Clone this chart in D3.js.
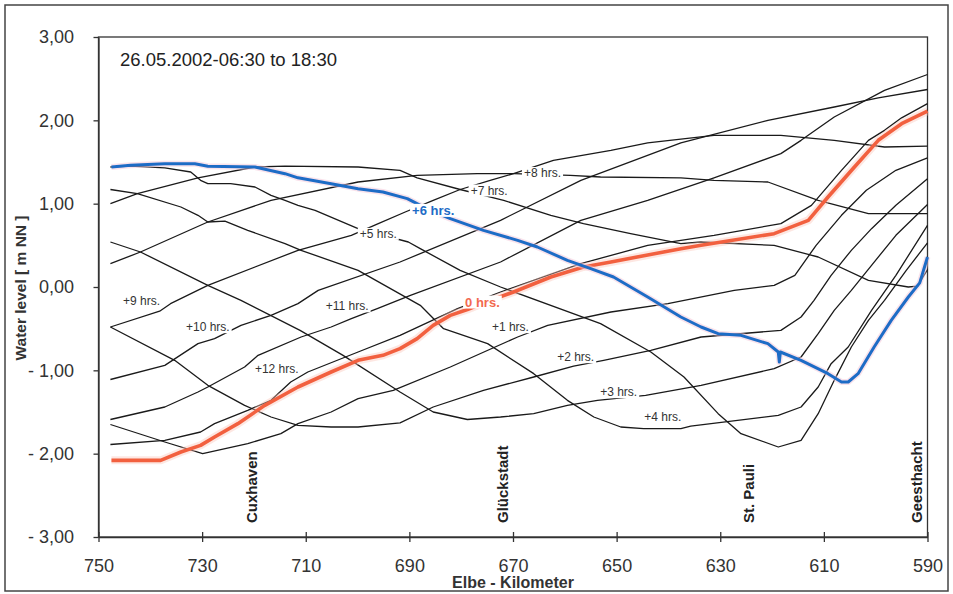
<!DOCTYPE html>
<html>
<head>
<meta charset="utf-8">
<script src="https://cdn.jsdelivr.net/npm/d3@7"></script>
<style>
  body { margin: 0; background: #fff; }
  svg { display: block; }
  text { font-family: "Liberation Sans", Arial, sans-serif; }
</style>
</head>
<body>
<div id="chart"></div>
<script>
// water level profiles along the Elbe [km, m NN], one per hour
const hrs0 = [[747.5,-2.08],[738.0,-2.08],[734.1,-1.98],[730.3,-1.90],[727.6,-1.80],[723.1,-1.64],[717.9,-1.42],[711.5,-1.20],[705.1,-1.02],[699.9,-0.88],[695.1,-0.82],[691.8,-0.74],[688.5,-0.62],[685.4,-0.46],[682.1,-0.34],[678.8,-0.27],[674.4,-0.16],[669.9,-0.06],[662.7,0.12],[656.4,0.24],[651.1,0.30],[637.6,0.46],[633.7,0.50],[619.6,0.64],[613.0,0.80],[609.2,1.08],[604.1,1.44],[599.5,1.76],[595.0,1.96],[590.0,2.11]];
const hrs1 = [[747.7,-1.65],[737.2,-1.86],[729.9,-2.00],[721.2,-1.88],[714.8,-1.76],[711.5,-1.64],[705.1,-1.50],[699.9,-1.34],[693.1,-1.24],[682.1,-0.96],[669.1,-0.60],[663.3,-0.46],[651.1,-0.30],[640.1,-0.20],[627.3,-0.04],[619.6,0.02],[615.6,0.14],[611.5,0.50],[606.6,0.86],[601.8,1.16],[596.1,1.40],[590.0,1.55]];
const hrs2 = [[747.7,-0.48],[735.3,-0.88],[728.9,-1.18],[721.8,-1.42],[716.7,-1.56],[711.5,-1.66],[705.1,-1.68],[699.9,-1.68],[691.8,-1.63],[685.4,-1.44],[675.7,-1.24],[666.0,-1.08],[658.3,-0.95],[652.5,-0.88],[643.4,-0.76],[633.7,-0.60],[618.3,-0.52],[614.4,-0.36],[611.9,-0.16],[608.6,0.14],[604.7,0.44],[600.8,0.70],[596.1,0.98],[590.0,1.30]];
const hrs3 = [[747.7,0.54],[741.9,0.42],[728.9,0.02],[722.5,-0.16],[711.1,-0.52],[702.8,-0.82],[691.8,-1.26],[685.4,-1.50],[678.8,-1.59],[672.4,-1.56],[666.0,-1.52],[659.5,-1.42],[653.7,-1.36],[644.4,-1.30],[633.7,-1.18],[619.6,-0.98],[614.4,-0.84],[611.1,-0.56],[608.0,-0.28],[604.7,-0.04],[600.8,0.26],[596.1,0.62],[590.0,0.99]];
const hrs4 = [[747.7,1.17],[742.5,1.12],[734.1,0.96],[730.8,0.86],[728.9,0.78],[725.6,0.79],[721.2,0.68],[714.0,0.52],[710.9,0.44],[699.9,0.20],[687.9,-0.22],[683.4,-0.50],[674.9,-0.68],[666.0,-1.04],[659.5,-1.36],[654.4,-1.56],[649.2,-1.68],[644.8,-1.70],[637.6,-1.70],[635.7,-1.67],[618.8,-1.54],[614.4,-1.44],[611.1,-1.20],[608.6,-0.92],[605.3,-0.72],[600.8,-0.28],[596.1,0.14],[590.0,0.74]];
const hrs5 = [[747.7,1.44],[743.8,1.45],[737.2,1.43],[732.2,1.38],[730.3,1.28],[728.9,1.24],[724.5,1.24],[719.8,1.20],[716.7,1.10],[714.0,1.04],[711.5,0.98],[708.2,0.92],[699.9,0.70],[690.2,0.54],[687.9,0.46],[680.2,0.20],[672.4,0.00],[653.1,-0.44],[643.4,-0.78],[637.0,-1.08],[630.4,-1.52],[626.0,-1.76],[618.8,-1.92],[614.4,-1.84],[611.1,-1.52],[608.0,-1.12],[604.7,-0.72],[601.4,-0.40],[598.3,-0.16],[594.1,0.20],[590.0,0.53]];
const hrs6 = [[747.5,1.44],[743.8,1.46],[737.2,1.48],[731.4,1.48],[728.9,1.45],[719.8,1.44],[714.0,1.36],[711.5,1.31],[705.1,1.24],[699.9,1.18],[695.1,1.14],[690.4,1.06],[686.0,0.92],[682.1,0.82],[675.7,0.68],[669.1,0.56],[665.3,0.48],[659.5,0.32],[655.0,0.22],[650.6,0.12],[644.0,-0.12],[637.6,-0.36],[633.7,-0.48],[630.4,-0.56],[626.0,-0.58],[620.8,-0.68],[618.8,-0.78],[618.6,-0.90],[618.4,-0.78],[614.4,-0.88],[609.2,-1.04],[606.6,-1.14],[605.3,-1.14],[603.4,-1.04],[600.3,-0.72],[597.0,-0.40],[593.7,-0.12],[591.5,0.05],[590.0,0.36]];
const hrs7 = [[747.7,1.00],[742.5,1.12],[730.8,1.31],[719.8,1.44],[714.0,1.45],[699.9,1.44],[691.8,1.40],[688.5,1.31],[680.2,1.17],[671.8,1.04],[662.7,0.86],[656.4,0.76],[647.3,0.64],[637.6,0.52],[633.7,0.54],[619.6,0.50],[611.1,0.36],[601.4,0.08],[593.7,0.00],[591.9,0.01],[590.0,0.21]];
const hrs8 = [[747.7,0.28],[741.9,0.42],[728.9,0.78],[716.7,1.04],[699.9,1.26],[688.5,1.34],[676.9,1.36],[669.9,1.36],[658.9,1.34],[653.1,1.32],[637.6,1.31],[631.2,1.28],[620.8,1.26],[611.1,1.04],[601.4,0.88],[590.0,0.88]];
const hrs9 = [[747.7,-0.48],[738.2,-0.29],[736.1,-0.20],[728.9,0.02],[711.5,0.44],[701.2,0.62],[696.0,0.76],[690.8,0.90],[685.4,1.04],[680.2,1.17],[674.4,1.28],[669.9,1.36],[662.2,1.52],[651.1,1.64],[644.0,1.73],[631.2,1.82],[618.3,1.82],[608.0,1.76],[598.3,1.68],[590.0,1.69]];
const hrs10 = [[747.7,-1.11],[737.2,-0.94],[730.8,-0.68],[727.6,-0.62],[722.5,-0.46],[716.7,-0.34],[711.5,-0.20],[707.6,-0.04],[691.8,0.30],[672.4,0.80],[656.9,1.28],[637.6,1.73],[620.8,2.00],[608.0,2.16],[599.5,2.27],[590.0,2.37]];
const hrs11 = [[747.7,-1.59],[737.2,-1.44],[730.8,-1.26],[728.9,-1.20],[721.8,-0.96],[719.2,-0.82],[710.9,-0.60],[705.1,-0.48],[701.2,-0.38],[696.2,-0.26],[689.8,-0.10],[672.4,0.30],[656.9,0.80],[644.0,1.04],[631.2,1.31],[618.3,1.60],[614.4,1.76],[608.0,2.04],[598.3,2.36],[590.0,2.55]];
const hrs12 = [[747.7,-1.89],[737.2,-1.84],[730.3,-1.74],[727.6,-1.64],[721.2,-1.48],[716.7,-1.36],[712.9,-1.14],[709.6,-1.02],[699.9,-0.78],[691.8,-0.58],[680.7,-0.26],[672.4,-0.06],[656.9,0.28],[644.0,0.50],[631.2,0.62],[618.3,0.76],[612.4,0.98],[606.6,1.40],[601.4,1.76],[598.3,1.88],[595.0,2.03],[590.0,2.20]];

const blackSeries = [hrs1, hrs2, hrs3, hrs4, hrs5, hrs7, hrs8, hrs9, hrs10, hrs11, hrs12];

// curve labels, anchored at [km, level]
const hourLabels = [
  {text: "+1 hrs.", km: 670.5, lv: -0.48},
  {text: "+2 hrs.", km: 657.9, lv: -0.84},
  {text: "+3 hrs.", km: 649.6, lv: -1.26},
  {text: "+4 hrs.", km: 641.1, lv: -1.56},
  {text: "+5 hrs.", km: 696.0, lv: 0.64},
  {text: "+7 hrs.", km: 674.6, lv: 1.16},
  {text: "+8 hrs.", km: 664.3, lv: 1.37},
  {text: "+9 hrs.", km: 741.7, lv: -0.16},
  {text: "+10 hrs.", km: 728.9, lv: -0.48},
  {text: "+11 hrs.", km: 702.0, lv: -0.23},
  {text: "+12 hrs.", km: 715.6, lv: -0.98}
];
const blueLabel = {text: "+6 hrs.", km: 685.4, lv: 0.92};
const redLabel = {text: "0 hrs.", km: 675.9, lv: -0.18};

const stations = [
  {name: "Cuxhaven", km: 720.4},
  {name: "Glückstadt", km: 672.0},
  {name: "St. Pauli", km: 624.4},
  {name: "Geesthacht", km: 592.0}
];

const xTicks = [750, 730, 710, 690, 670, 650, 630, 610, 590];
const yTicks = [-3, -2, -1, 0, 1, 2, 3];

const W = 953, H = 594;
const plot = {left: 98.5, right: 927.5, top: 37, bottom: 537};

const svg = d3.select("#chart").append("svg")
    .attr("width", W)
    .attr("height", H);

// outer frame of the picture
svg.append("rect")
    .attr("x", 5).attr("y", 5)
    .attr("width", 943).attr("height", 586)
    .attr("fill", "none")
    .attr("stroke", "#444")
    .attr("stroke-width", 1.5);

const x = d3.scaleLinear().domain([750, 590]).range([plot.left, plot.right]);
const y = d3.scaleLinear().domain([-3, 3]).range([plot.bottom, plot.top]);

const fmt = d3.format(".2f");
const yFormat = v => (v < 0 ? "- " + fmt(-v) : fmt(v)).replace(".", ",");

// axes
const xAxis = svg.append("g")
    .attr("transform", `translate(0,${plot.bottom})`)
    .call(d3.axisBottom(x).tickValues(xTicks).tickSize(0).tickPadding(22).tickSizeOuter(0));
xAxis.selectAll(".tick line").attr("y1", -5).attr("y2", 5);
xAxis.selectAll("text").attr("font-size", 18).attr("fill", "#333")
    .style("font-family", '"Liberation Sans", Arial, sans-serif');

const yAxis = svg.append("g")
    .attr("transform", `translate(${plot.left},0)`)
    .call(d3.axisLeft(y).tickValues(yTicks).tickSize(5).tickPadding(19.5).tickSizeOuter(0).tickFormat(yFormat));
yAxis.selectAll("text").attr("font-size", 18).attr("fill", "#333")
    .style("font-family", '"Liberation Sans", Arial, sans-serif');

svg.selectAll(".domain, .tick line").attr("stroke", "#333").attr("stroke-width", 1.3);

// plot frame
svg.append("rect")
    .attr("x", plot.left).attr("y", plot.top)
    .attr("width", plot.right - plot.left)
    .attr("height", plot.bottom - plot.top)
    .attr("fill", "none")
    .attr("stroke", "#333")
    .attr("stroke-width", 1.3);

const line = d3.line().x(d => x(d[0])).y(d => y(d[1]));

svg.append("g").selectAll("path")
    .data(blackSeries)
    .enter().append("path")
    .attr("d", line)
    .attr("fill", "none")
    .attr("stroke", "#1a1a1a")
    .attr("stroke-width", 1.3)
    .attr("stroke-linejoin", "round");

// 0 hrs, red with soft halo
svg.append("path").attr("d", line(hrs0))
    .attr("fill", "none").attr("stroke", "#f9c4b6").attr("stroke-width", 8).attr("opacity", 0.4)
    .attr("stroke-linejoin", "round");
svg.append("path").attr("d", line(hrs0))
    .attr("fill", "none").attr("stroke", "#f2603f").attr("stroke-width", 3.6)
    .attr("stroke-linejoin", "round");

// +6 hrs, blue
svg.append("path").attr("d", line(hrs6))
    .attr("fill", "none").attr("stroke", "#f3c6d8").attr("stroke-width", 6).attr("opacity", 0.5)
    .attr("stroke-linejoin", "round");
svg.append("path").attr("d", line(hrs6))
    .attr("fill", "none").attr("stroke", "#1d6cc6").attr("stroke-width", 3)
    .attr("stroke-linejoin", "round");

// labels with white boxes that cut the lines
function addLabel(lab, color, weight, size) {
    const g = svg.append("g");
    const t = g.append("text")
        .attr("x", x(lab.km))
        .attr("y", y(lab.lv))
        .attr("dy", "0.35em")
        .attr("text-anchor", "middle")
        .attr("font-size", size)
        .attr("font-weight", weight)
        .attr("fill", color)
        .text(lab.text);
    const b = t.node().getBBox();
    g.insert("rect", "text")
        .attr("x", b.x - 2).attr("y", b.y + 1)
        .attr("width", b.width + 4).attr("height", b.height - 2)
        .attr("fill", "#fff");
}
hourLabels.forEach(l => addLabel(l, "#333", "normal", 12));
addLabel(blueLabel, "#1d6cc6", "bold", 13);
addLabel(redLabel, "#f26a4f", "bold", 13);

// stations, vertical
svg.append("g").selectAll("text")
    .data(stations)
    .enter().append("text")
    .attr("transform", d => `translate(${x(d.km) + 5},523) rotate(-90)`)
    .attr("font-size", 15)
    .attr("font-weight", "bold")
    .attr("fill", "#222")
    .text(d => d.name);

// title
svg.append("text")
    .attr("x", 120).attr("y", 66)
    .attr("font-size", 18.5)
    .attr("fill", "#222")
    .text("26.05.2002-06:30 to 18:30");

// axis titles
svg.append("text")
    .attr("x", (plot.left + plot.right) / 2).attr("y", 588)
    .attr("text-anchor", "middle")
    .attr("font-size", 16)
    .attr("font-weight", "bold")
    .attr("fill", "#333")
    .text("Elbe - Kilometer");

svg.append("text")
    .attr("transform", "translate(26,288) rotate(-90)")
    .attr("text-anchor", "middle")
    .attr("font-size", 15.5)
    .attr("font-weight", "bold")
    .attr("fill", "#333")
    .text("Water level [ m NN ]");
</script>
</body>
</html>
